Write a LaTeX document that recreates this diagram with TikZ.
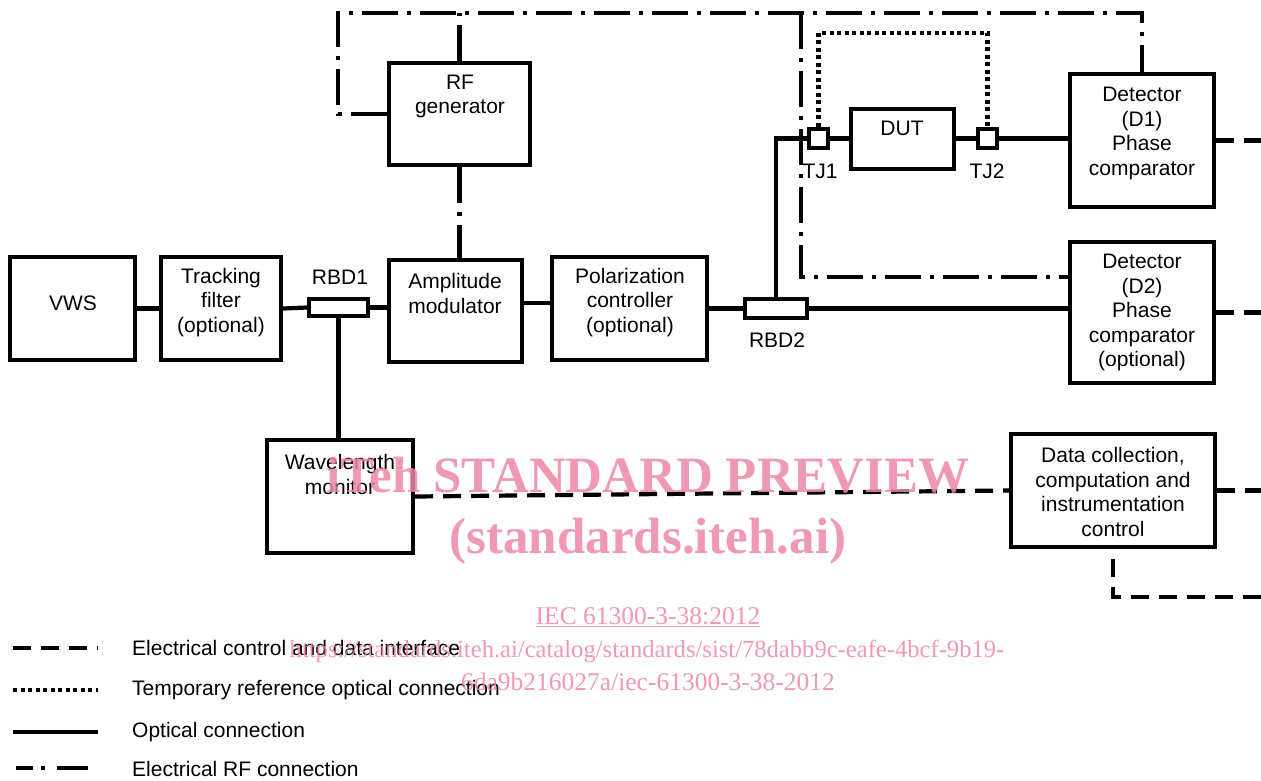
\documentclass[tikz,border=0pt]{standalone}
\usepackage{fontspec}
\setmainfont{Liberation Sans}
\newfontfamily\wmfont{Liberation Serif}
\usetikzlibrary{calc}
\definecolor{wmpink}{RGB}{236,135,165}
\begin{document}
\begin{tikzpicture}[x=1pt,y=-1pt,
  box/.style={draw, line width=4.2pt, inner sep=0pt},
  opt/.style={line width=4.2pt},
  ctl/.style={line width=4.2pt, dash pattern=on 18pt off 10pt},
  rfl/.style={line width=4.2pt, dash pattern=on 36pt off 9pt on 4pt off 9pt},
  tmp/.style={line width=4.2pt, dash pattern=on 4pt off 3.5pt},
  txt/.style={font=\fontsize{21}{24.5}\selectfont, align=center, inner sep=0pt},
  wmbig/.style={font=\wmfont\bfseries\fontsize{51}{51}\selectfont, text=wmpink, text opacity=0.85, inner sep=0pt, anchor=base},
  wmsmall/.style={font=\wmfont\fontsize{25.5}{25.5}\selectfont, text=wmpink, text opacity=0.85, inner sep=0pt, anchor=base}
]
\useasboundingbox (0,0) rectangle (1261,780);

% boxes
\node[box, minimum width=125pt, minimum height=103pt] (vws) at (72.5,308.5) {};
\node[box, minimum width=120pt, minimum height=103pt] (tf) at (221,308.5) {};
\node[box, minimum width=59pt, minimum height=17pt] (rbd1) at (338.5,307.5) {};
\node[box, minimum width=133pt, minimum height=102pt] (amp) at (455.5,311) {};
\node[box, minimum width=155pt, minimum height=103pt] (pol) at (629.5,308.5) {};
\node[box, minimum width=62pt, minimum height=19pt] (rbd2) at (776,308.5) {};
\node[box, minimum width=141pt, minimum height=102pt] (rf) at (459.5,114) {};
\node[box, minimum width=19pt, minimum height=19pt] (tj1) at (818.5,138.5) {};
\node[box, minimum width=103pt, minimum height=60pt] (dut) at (902.5,139) {};
\node[box, minimum width=19pt, minimum height=19pt] (tj2) at (987.5,138.5) {};
\node[box, minimum width=144pt, minimum height=133pt] (d1) at (1142,140.5) {};
\node[box, minimum width=144pt, minimum height=141pt] (d2) at (1142,312.5) {};
\node[box, minimum width=146pt, minimum height=113pt] (wm) at (340,496.5) {};
\node[box, minimum width=204pt, minimum height=113pt] (dc) at (1113,490.5) {};

% box texts
\node[txt] (vwst) at (73,303) {VWS};
\node[txt] (tft) at (221,302.5) {Tracking\\filter\\(optional)};
\node[txt] (ampt) at (455,293.5) {Amplitude\\modulator};
\node[txt] (polt) at (630,302.5) {Polarization\\controller\\(optional)};
\node[txt] (rft) at (460,96.5) {RF\\generator};
\node[txt] (dutt) at (902,128) {DUT};
\node[txt] (d1t) at (1142,133.5) {Detector\\(D1)\\Phase\\comparator};
\node[txt] (d2t) at (1142,312.5) {Detector\\(D2)\\Phase\\comparator\\(optional)};
\node[txt] (wmt) at (340,474.5) {Wavelength\\monitor};
\node[txt] (dct) at (1113,492) {Data collection,\\computation and\\instrumentation\\control};
\node[txt] (rbd1t) at (340,277) {RBD1};
\node[txt] (rbd2t) at (777,340) {RBD2};
\node[txt] (tj1t) at (820,171) {TJ1};
\node[txt] (tj2t) at (987,171) {TJ2};

% optical connections
\draw[opt] (vws.east) -- (tf.west);
\draw[opt] (tf.east) -- (rbd1.west);
\draw[opt] (rbd1.east) -- (rbd1.east -| amp.west);
\draw[opt] (rbd1.south) -- (rbd1.south |- wm.north);
\draw[opt] ($(amp.east)+(0,-8)$) -- ($(amp.east -| pol.west)+(0,-8)$);
\draw[opt] (pol.east) -- (pol.east -| rbd2.west);
\draw[opt] (rbd2.north) |- (tj1.west);
\draw[opt] (tj1.east) -- (tj1.east -| dut.west);
\draw[opt] (tj2.west -| dut.east) -- (tj2.west);
\draw[opt] (tj2.east) -- (tj2.east -| d1.west);
\draw[opt] (rbd2.east) -- (rbd2.east -| d2.west);

% RF connections
\coordinate (c1) at (338,13);
\coordinate (c3) at (801,13);
\coordinate (c4) at (801,277);
\draw[rfl] (rf.west) -| (c1) -| (d1.north);
\draw[rfl] (rf.north) -- (rf.north |- c1);
\draw[rfl] (rf.south) -- (rf.south |- amp.north);
\draw[rfl] (c3) -- (c4) -- (c4 -| d2.west);

% temporary reference
\draw[tmp] (tj1.north) -- ++(0,-94) -| (tj2.north);

% electrical control
\coordinate (e) at (1261,0);
\coordinate (e5) at (1261,597);
\draw[ctl] (d1.east) -- (d1.east -| e);
\draw[ctl] (d2.east) -- (d2.east -| e);
\draw[ctl] (wm.east) -- (dc.west);
\draw[ctl] (dc.east) -- (dc.east -| e);
\draw[ctl, dash phase=18pt] (dc.south) |- (e5);

% legend
\coordinate (l1a) at (13,648); \coordinate (l1b) at (98,648);
\coordinate (l2a) at (13,690); \coordinate (l2b) at (98,690);
\coordinate (l3a) at (13,732); \coordinate (l3b) at (98,732);
\coordinate (l4a) at (16,768); \coordinate (l4b) at (88,768);
\draw[ctl] (l1a) -- (l1b);
\draw[tmp] (l2a) -- (l2b);
\draw[opt] (l3a) -- (l3b);
\draw[line width=4.2pt, dash pattern=on 17pt off 8pt on 4pt off 12pt on 40pt off 10pt] (l4a) -- (l4b);
\node[txt, anchor=west] (lt1) at (132,648) {Electrical control and data interface};
\node[txt, anchor=west] (lt2) at (132,690) {Temporary reference optical connection};
\node[txt, anchor=west] (lt3) at (132,732) {Optical connection};
\node[txt, anchor=west] (lt4) at (132,769) {Electrical RF connection};

% watermark
\node[wmbig] (w1) at (648,492) {iTeh STANDARD PREVIEW};
\node[wmbig] (w2) at (648,553) {(standards.iteh.ai)};
\node[wmsmall] (w3) at (648,624) {\underline{IEC 61300-3-38:2012}};
\node[wmsmall, font=\wmfont\fontsize{24.6}{24.6}\selectfont] (w4) at (647,657) {https://standards.iteh.ai/catalog/standards/sist/78dabb9c-eafe-4bcf-9b19-};
\node[wmsmall] (w5) at (648,690) {6da9b216027a/iec-61300-3-38-2012};
\end{tikzpicture}
\end{document}
